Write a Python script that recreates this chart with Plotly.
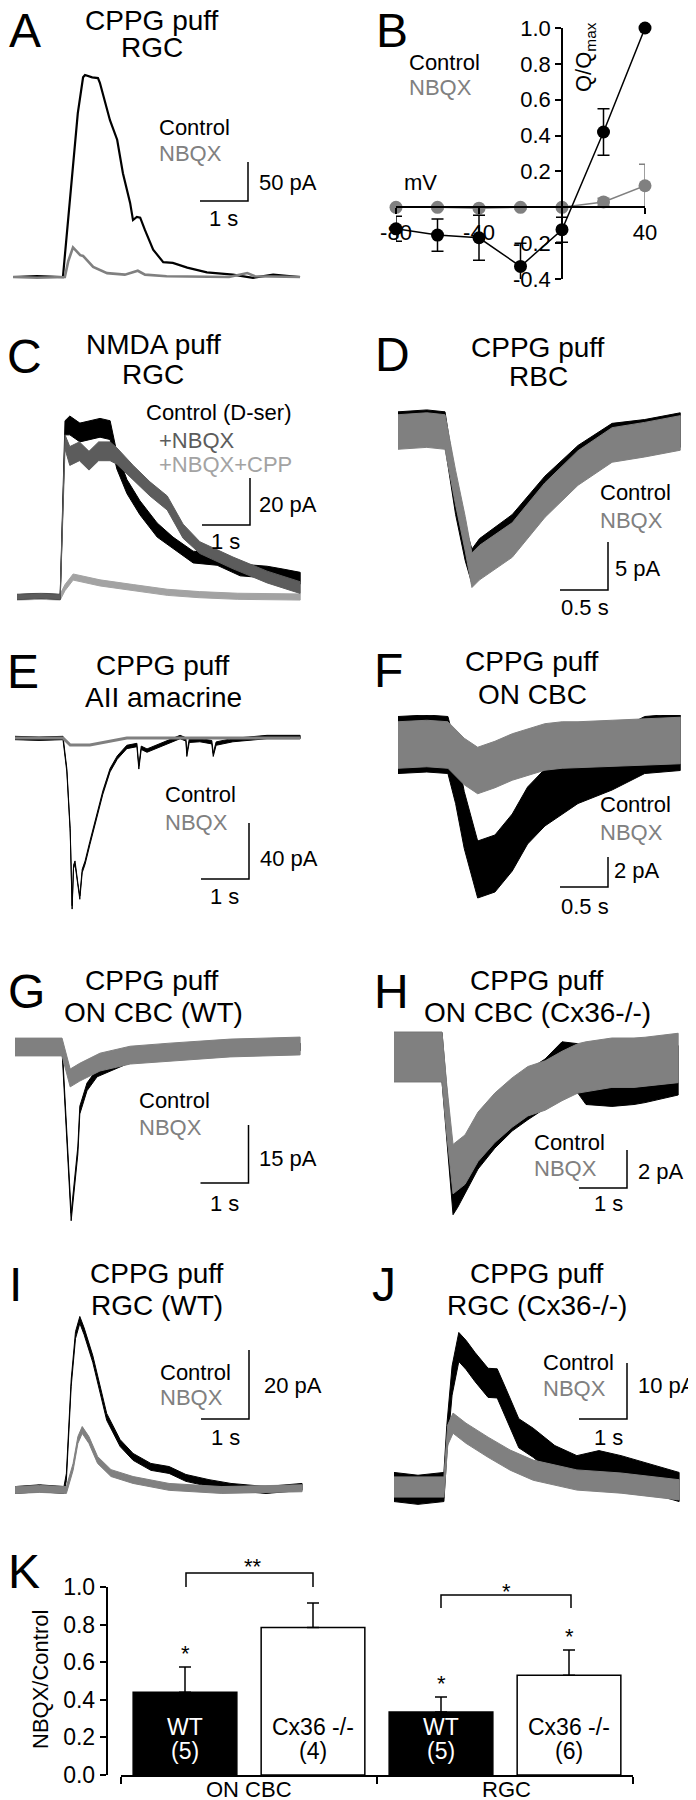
import plotly.graph_objects as go

W, H = 696, 1800
OX, OY = 8, 8  # page offset of the figure div (default body margin)
FONT = "Liberation Sans, Arial, sans-serif"
BLACK = "#000000"
GRAY = "#808080"
DARK = "#5c5c5c"
LIGHT = "#a3a3a3"

# ---- A: CPPG puff, RGC  (time s, current pA, outward up)
a_t_ctrl = [0, 0.5, 1.04, 1.23, 1.35, 1.46, 1.50, 1.65, 1.77, 1.81, 2.02, 2.17, 2.29, 2.44, 2.50,
            2.58, 2.65, 2.75, 2.92, 3.13, 3.33, 3.63, 4.04, 4.58, 5.0, 5.42, 5.98]
a_ctrl = [0, 1, 0, 133, 210, 256, 259, 256, 255, 249, 201, 176, 133, 95, 73,
          77, 76, 60, 35, 19, 18, 12, 6, 3, -1, 3, 0]
a_t_nbqx = [0, 0.5, 1.08, 1.15, 1.25, 1.40, 1.46, 1.67, 1.96, 2.33, 2.6, 2.75, 3.2, 4.5, 4.88, 5.04, 5.98]
a_nbqx = [0, -1, 0, 20, 38, 28, 27, 13, 5, 3, 8, 3, 1, 0, 5, 1, 0]

# ---- B: charge vs holding potential
b_mv = [-80, -60, -40, -20, 0, 20, 40]
b_ctrl = [-0.12, -0.155, -0.17, -0.33, -0.125, 0.42, 1.0]
b_ctrl_err = [0.07, 0.09, 0.125, 0.13, 0.07, 0.13, 0]
b_nbqx = [0, 0, -0.005, 0, 0, 0.03, 0.12]
b_nbqx_err = [0.01, 0.01, 0.01, 0.01, 0.01, 0.02, 0.12]
b_yticks = [-0.4, -0.2, 0.2, 0.4, 0.6, 0.8, 1.0]
b_xticks = [-80, -40, 40]

# ---- C: NMDA puff, RGC
c_t_ctrl = [0, 0.5, 0.9, 1.0, 1.1, 1.31, 1.52, 1.73, 1.94, 2.08, 2.29, 2.56, 2.92, 3.25, 3.67, 4.17,
            4.65, 5.21, 5.54, 5.9]
c_ctrl = [0, 0.5, 0, 72, 73, 70, 71, 72, 71, 58, 47, 38, 28.5, 23, 17, 16, 11.5, 10.6, 9.4, 8]
c_ctrl_noise = [1, 1, 1, 3, 4, 4, 4, 4, 4, 3.5, 3, 3, 3, 2.5, 2.5, 2.5, 2.5, 2.5, 2.5, 2.5]
c_t_nbqx = [0, 0.5, 0.9, 1.0, 1.1, 1.3, 1.5, 1.7, 1.94, 2.08, 2.42, 2.77, 3.13, 3.46, 3.81, 4.5, 5.21, 5.9]
c_nbqx = [0, 0.5, 0, 66, 60, 62, 58, 62, 62, 60, 53, 46, 40, 28, 21, 14.5, 8.5, 4]
c_nbqx_noise = [1, 1, 1, 3, 4, 4, 4, 4, 4, 3.5, 3, 3, 3, 3, 2.5, 2.5, 2.5, 2.5]
c_t_cpp = [0, 0.5, 0.9, 1.0, 1.17, 1.73, 2.42, 3.13, 3.8, 4.6, 5.9]
c_cpp = [0, 0.3, 0, 4, 8.5, 6, 4, 2, 1, 0.3, 0]

# ---- D: CPPG puff, RBC
d_t = [0, 0.3, 0.49, 0.6, 0.7, 0.77, 0.85, 1.0, 1.19, 1.53, 1.875, 2.23, 2.57, 2.94]
d_ctrl = [0.3, 0.5, 0.3, -6.8, -11.6, -14.0, -12.9, -11.8, -10.4, -6.4, -3.2, -0.9, -0.5, 0.2]
d_nbqx = [0, 0.2, 0, -5.8, -10.6, -14.4, -13.6, -12.6, -11.25, -7.1, -3.75, -1.35, -0.8, -0.1]

# ---- E: CPPG puff, AII amacrine
e_t_ctrl = [0, 0.5, 1.0, 1.08, 1.15, 1.19, 1.22, 1.25, 1.31, 1.35, 1.40, 1.46, 1.56, 1.71, 1.83, 1.98,
            2.13, 2.33, 2.54, 2.58, 2.63, 2.75, 3.17, 3.44, 3.56, 3.58, 3.63, 3.85, 4.1, 4.13, 4.19,
            4.54, 5.25, 5.94]
e_ctrl = [0, -0.5, 0, -23, -66, -121, -92, -89, -105, -114, -95, -89, -75, -56, -39, -23,
          -14, -6.4, -5, -21, -7, -9, -3, 0.7, -1, -12, -2, -1.5, -3, -12, -4,
          -1.5, 0.7, 0.7]
e_t_nbqx = [0, 1.0, 1.15, 1.56, 2.33, 5.94]
e_nbqx = [0, 0, -5, -5, 0, 0]

# ---- F: CPPG puff, ON CBC
f_t = [0, 0.3, 0.52, 0.6, 0.69, 0.83, 1.01, 1.19, 1.35, 1.53, 1.71, 1.875, 2.23, 2.57, 2.94]
f_ctrl = [0, 0.1, 0, -2.0, -5.0, -8.3, -7.9, -6.5, -4.7, -3.5, -2.7, -2.0, -1.1, 0, 0.2]
f_nbqx = [0, 0.1, 0, -0.5, -1.1, -1.7, -1.3, -0.8, -0.5, -0.13, 0, 0, 0.1, 0.2, 0.3]

# ---- G: CPPG puff, ON CBC (WT)
g_t_ctrl = [0, 0.98, 1.17, 1.23, 1.31, 1.35, 1.5, 1.71, 1.98, 2.33, 2.81, 3.85, 5.94]
g_ctrl = [0, 0, -43.9, -36, -26.6, -16.3, -10.3, -6.7, -5.2, -3.4, -2.1, -0.8, 0]
g_t_nbqx = [0, 0.98, 1.15, 1.35, 1.77, 2.4, 3.23, 4.48, 5.94]
g_nbqx = [0, 0, -8, -6.5, -3.9, -2.1, -1.3, -0.26, 0.26]

# ---- H: CPPG puff, ON CBC (Cx36-/-)
h_t = [0, 0.5, 1.0, 1.1, 1.23, 1.33, 1.48, 1.75, 2.1, 2.46, 2.79, 3.15, 3.5, 3.83, 4.0, 4.54, 5.0, 5.23, 5.92]
h_ctrl = [0, 0, 0, -3.0, -7.0, -6.6, -5.9, -4.6, -3.5, -2.6, -2.0, -1.4, -0.5, -0.6, -1.2, -1.3, -1.2, -1.1, -0.7]
h_nbqx = [0, 0, 0, -2.8, -5.9, -5.7, -5.4, -4.2, -3.2, -2.4, -1.8, -1.5, -1.0, -0.6, -0.5, -0.3, -0.3, -0.26, -0.05]

# ---- I: CPPG puff, RGC (WT)
i_t_ctrl = [0, 0.5, 1.01, 1.06, 1.16, 1.25, 1.34, 1.43, 1.61, 1.76, 1.9, 2.18, 2.45, 2.82, 3.2, 3.55,
            4.03, 4.49, 5.22, 5.97]
i_ctrl = [0, 0.5, 0, 3.8, 31, 44.9, 49.3, 46, 38, 29.6, 21.2, 13.6, 9.6, 6.7, 5.8, 3.5, 2.0, 0.9, 0, 0.9]
i_t_nbqx = [0, 0.5, 1.06, 1.2, 1.3, 1.39, 1.53, 1.71, 1.99, 2.45, 3.2, 4.3, 5.97]
i_nbqx = [0, 0.3, 0, 6.7, 14.5, 17.4, 14.5, 8.7, 4.9, 2.9, 0.9, 0, 0.5]

# ---- J: CPPG puff, RGC (Cx36-/-)
j_t_ctrl = [0, 0.5, 1.04, 1.1, 1.21, 1.35, 1.5, 1.69, 1.96, 2.15, 2.33, 2.6, 2.9, 3.35, 3.81, 4.27,
            4.73, 5.21, 5.67, 5.94]
j_ctrl = [0, -0.5, 0, 8.4, 19, 25, 23.6, 21.4, 18.6, 18.5, 15, 9.6, 7.9, 4.8, 3.0, 3.9, 3.0, 1.8, 0.7, 0]
j_t_nbqx = [0, 0.5, 1.04, 1.12, 1.23, 1.5, 1.96, 2.42, 2.9, 3.81, 4.73, 5.94]
j_nbqx = [0, 0, 0, 9.3, 11.4, 9.6, 7.1, 4.8, 3.0, 1.25, 0.7, -0.5]

# ---- K: NBQX / Control summary
k_groups = ["ON CBC", "RGC"]
k_geno = ["WT", "Cx36 -/-", "WT", "Cx36 -/-"]
k_n = [5, 4, 5, 6]
k_ratio = [0.44, 0.785, 0.335, 0.53]
k_sem = [0.135, 0.13, 0.08, 0.135]
k_yticks = [0.0, 0.2, 0.4, 0.6, 0.8, 1.0]

# panel -> axis no., box (l, t, r, b) page px, px of t=0, px per s, px of I=0, px per pA
GEOM = {
    "A": (1, (8, 55, 345, 300), 13, 48, 277, 0.78),
    "C": (3, (8, 390, 345, 625), 17, 48, 597, 2.35),
    "D": (4, (345, 390, 696, 625), 398, 96, 432, 9.6),
    "E": (5, (8, 715, 345, 925), 15, 48, 738, 1.4),
    "F": (6, (345, 715, 696, 925), 398, 96, 745, 15),
    "G": (7, (8, 1025, 345, 1235), 15, 48, 1047, 3.87),
    "H": (8, (345, 1025, 696, 1235), 394, 48, 1057, 19),
    "I": (9, (8, 1310, 345, 1520), 15.5, 48, 1490, 3.45),
    "J": (10, (345, 1310, 696, 1520), 394, 48, 1487, 5.6),
}


def fx(p):
    return (p - OX) / W


def fy(p):
    return 1 - (p - OY) / H


fig = go.Figure()


def ax_names(n):
    s = "" if n == 1 else str(n)
    return "xaxis" + s, "yaxis" + s, "x" + s, "y" + s


def setup_trace_axes(key):
    n, (l, t, r, b), x0, sx, y0, sy = GEOM[key]
    xa, ya, xr, yr = ax_names(n)
    fig.update_layout(**{
        xa: dict(domain=[fx(l), fx(r)], range=[(l - x0) / sx, (r - x0) / sx], visible=False,
                 anchor=yr, automargin=False),
        ya: dict(domain=[fy(b), fy(t)], range=[(y0 - b) / sy, (y0 - t) / sy], visible=False,
                 anchor=xr, automargin=False),
    })


def add_sig(key, t, v, color, noise=0.0, width=2.0):
    _, _, xr, yr = ax_names(GEOM[key][0])
    if noise:
        nz = noise if isinstance(noise, list) else [noise] * len(v)
        up = [a + e for a, e in zip(v, nz)]
        lo = [a - e for a, e in zip(v, nz)]
        fig.add_trace(go.Scatter(x=list(t) + list(t)[::-1], y=up + lo[::-1], mode="lines", fill="toself",
                                 fillcolor=color, line=dict(color=color, width=1),
                                 xaxis=xr, yaxis=yr, hoverinfo="skip"))
    else:
        fig.add_trace(go.Scatter(x=t, y=v, mode="lines", line=dict(color=color, width=width),
                                 xaxis=xr, yaxis=yr, hoverinfo="skip"))


def scale_bar(key, corner, dt, di):
    n, _, x0, sx, y0, sy = GEOM[key]
    _, _, xr, yr = ax_names(n)
    tc = (corner[0] - x0) / sx
    ic = (y0 - corner[1]) / sy
    fig.add_trace(go.Scatter(x=[tc - dt, tc, tc], y=[ic, ic, ic + di], mode="lines",
                             line=dict(color=BLACK, width=1.5), xaxis=xr, yaxis=yr, hoverinfo="skip"))


def txt(x, y, s, size=22, color=BLACK, xanchor="center", angle=0):
    fig.add_annotation(x=fx(x), y=fy(y), xref="paper", yref="paper", text=s, showarrow=False,
                       font=dict(family=FONT, size=size, color=color), xanchor=xanchor,
                       yanchor="middle", textangle=angle)


for k in GEOM:
    setup_trace_axes(k)

# traces
add_sig("A", a_t_ctrl, a_ctrl, BLACK, width=2.2)
add_sig("A", a_t_nbqx, a_nbqx, GRAY, width=2.6)

add_sig("C", c_t_cpp, c_cpp, LIGHT, noise=1.3)
add_sig("C", c_t_ctrl, c_ctrl, BLACK, noise=c_ctrl_noise)
add_sig("C", c_t_nbqx, c_nbqx, DARK, noise=c_nbqx_noise)

add_sig("D", d_t, d_ctrl, BLACK, noise=1.8)
add_sig("D", d_t, d_nbqx, GRAY, noise=1.8)

add_sig("E", e_t_ctrl, e_ctrl, BLACK, noise=1.2)
add_sig("E", e_t_nbqx, e_nbqx, GRAY, width=3)

add_sig("F", f_t, f_ctrl, BLACK, noise=1.9)
add_sig("F", f_t, f_nbqx, GRAY, noise=1.55)

add_sig("G", g_t_ctrl, g_ctrl, BLACK, noise=1.0)
add_sig("G", g_t_nbqx, g_nbqx, GRAY, noise=2.3)

add_sig("H", h_t, h_ctrl, BLACK, noise=1.3)
add_sig("H", h_t, h_nbqx, GRAY, noise=1.3)

add_sig("I", i_t_ctrl, i_ctrl, BLACK, noise=1.0)
add_sig("I", i_t_nbqx, i_nbqx, GRAY, noise=1.0)

add_sig("J", j_t_ctrl, j_ctrl, BLACK, noise=2.6)
add_sig("J", j_t_nbqx, j_nbqx, GRAY, noise=1.8)

# scale bars
scale_bar("A", (248, 201), 1, 50)
scale_bar("C", (250, 525), 1, 20)
scale_bar("D", (608, 590), 0.5, 5)
scale_bar("E", (249, 879), 1, 40)
scale_bar("F", (608, 887), 0.5, 2)
scale_bar("G", (248.5, 1183), 1, 15)
scale_bar("H", (627, 1188), 1, 2)
scale_bar("I", (249, 1419), 1, 20)
scale_bar("J", (627, 1419), 1, 10)

# ---- B axes (crossing at origin)
fig.update_layout(
    xaxis2=dict(domain=[fx(396), fx(645)], range=[-80, 40], anchor="free", position=fy(207),
                showline=True, linecolor=BLACK, linewidth=1.5, ticks="outside", ticklen=6, tickwidth=1.5,
                tickcolor=BLACK, tickvals=b_xticks, ticktext=[str(v) for v in b_xticks], automargin=False,
                tickfont=dict(family=FONT, size=22, color=BLACK), showgrid=False, zeroline=False),
    yaxis2=dict(domain=[fy(279), fy(28)], range=[-0.4, 1.0], anchor="free", position=fx(562),
                showline=True, linecolor=BLACK, linewidth=1.5, ticks="outside", ticklen=6, tickwidth=1.5,
                tickcolor=BLACK, tickvals=b_yticks, ticktext=["%.1f" % v for v in b_yticks], automargin=False,
                tickfont=dict(family=FONT, size=22, color=BLACK), showgrid=False, zeroline=False),
)
fig.add_trace(go.Scatter(x=b_mv, y=b_nbqx, mode="lines+markers", xaxis="x2", yaxis="y2", cliponaxis=False,
                         line=dict(color=GRAY, width=1.5), marker=dict(color=GRAY, size=13),
                         error_y=dict(type="data", array=b_nbqx_err, color=GRAY, thickness=1.5, width=6)))
fig.add_trace(go.Scatter(x=b_mv, y=b_ctrl, mode="lines+markers", xaxis="x2", yaxis="y2", cliponaxis=False,
                         line=dict(color=BLACK, width=1.5), marker=dict(color=BLACK, size=13),
                         error_y=dict(type="data", array=b_ctrl_err, color=BLACK, thickness=1.5, width=6)))

# ---- K bar chart
k_x = list(range(len(k_ratio)))
fig.update_layout(
    xaxis11=dict(domain=[fx(121), fx(633)], range=[-0.5, 3.5], anchor="y11", showline=True, linecolor=BLACK,
                 linewidth=1.5, ticks="outside", ticklen=7, tickwidth=1.5, tickcolor=BLACK, automargin=False,
                 tickvals=[-0.5, 1.5, 3.5], showticklabels=False, showgrid=False, zeroline=False),
    yaxis11=dict(domain=[fy(1775), fy(1587)], range=[0, 1.0], anchor="free", position=fx(106.5),
                 showline=True, linecolor=BLACK, linewidth=1.5, ticks="outside", ticklen=6, tickwidth=1.5,
                 tickcolor=BLACK, tickvals=k_yticks, ticktext=["%.1f" % v for v in k_yticks], automargin=False,
                 tickfont=dict(family=FONT, size=23, color=BLACK), showgrid=False, zeroline=False),
)
fig.add_trace(go.Bar(x=k_x, y=k_ratio, width=0.81, xaxis="x11", yaxis="y11", cliponaxis=False,
                     marker=dict(color=[BLACK if g == "WT" else "white" for g in k_geno],
                                 line=dict(color=BLACK, width=1.5)),
                     error_y=dict(type="data", array=k_sem, arrayminus=[0] * len(k_sem), symmetric=False,
                                  color=BLACK, thickness=1.5, width=6)))
for i, (g, n) in enumerate(zip(k_geno, k_n)):
    col = "white" if g == "WT" else BLACK
    for line, ypx in ((g, 1727), ("(%d)" % n, 1751)):
        fig.add_annotation(x=i, y=fy(ypx), xref="x11", yref="paper", text=line, showarrow=False,
                           font=dict(family=FONT, size=23, color=col), xanchor="center", yanchor="middle")
# significance stars above WT ON CBC, WT RGC, Cx36 RGC
for i in (0, 2, 3):
    fig.add_annotation(x=i, y=k_ratio[i] + k_sem[i] + 0.07, xref="x11", yref="y11", text="*", showarrow=False,
                       font=dict(family=FONT, size=22, color=BLACK), xanchor="center", yanchor="middle")
for (xl, xr_, ytop, ybot, star, sx_, sy_) in ((186, 313, 1573, 1587, "**", 253, 1566),
                                              (441, 571, 1595, 1608, "*", 506, 1591)):
    fig.add_shape(type="path", xref="paper", yref="paper",
                  path="M %f %f L %f %f L %f %f L %f %f" % (fx(xl), fy(ybot), fx(xl), fy(ytop),
                                                          fx(xr_), fy(ytop), fx(xr_), fy(ybot)),
                  line=dict(color=BLACK, width=1.5))
    txt(sx_, sy_, star, size=22)
txt(249, 1789, k_groups[0])
txt(506, 1789, k_groups[1])
txt(40, 1680, "NBQX/Control", size=22, angle=-90)

# ---- texts
LET = 48
TIT = 28
for s, x, y in (("A", 25, 30), ("B", 392, 30), ("C", 24, 356), ("D", 392, 355), ("E", 23, 671),
                ("F", 388, 670), ("G", 26, 991), ("H", 391, 991), ("I", 15, 1284), ("J", 384, 1284),
                ("K", 24, 1571)):
    txt(x, y, s, size=LET)

for s, x, y in (("CPPG puff", 152, 20), ("RGC", 152, 47),
                ("NMDA puff", 153, 345), ("RGC", 153, 374),
                ("CPPG puff", 538, 347), ("RBC", 538, 376),
                ("CPPG puff", 163, 665), ("AII amacrine", 163, 697),
                ("CPPG puff", 532, 662), ("ON CBC", 532, 695),
                ("CPPG puff", 152, 980), ("ON CBC (WT)", 153, 1012),
                ("CPPG puff", 537, 980), ("ON CBC (Cx36-/-)", 537, 1012),
                ("CPPG puff", 157, 1273), ("RGC (WT)", 157, 1305),
                ("CPPG puff", 537, 1273), ("RGC (Cx36-/-)", 537, 1305)):
    txt(x, y, s, size=TIT)

# legends (left aligned)
for x, y1, y2 in ((157, 127, 153), (407, 62, 88), (598, 493, 520), (163, 795, 822), (598, 805, 832),
                  (137, 1100, 1127), (532, 1142, 1168), (158, 1372, 1397), (541, 1362, 1388)):
    txt(x, y1, "Control", xanchor="left")
    txt(x, y2, "NBQX", color=GRAY, xanchor="left")
txt(144, 413, "Control (D-ser)", xanchor="left")
txt(157, 440, "+NBQX", color=DARK, xanchor="left")
txt(157, 465, "+NBQX+CPP", color=LIGHT, xanchor="left")

# scale labels
for s, x, y, anc in (("50 pA", 257, 183, "left"), ("1 s", 223, 218, "center"),
                     ("20 pA", 257, 505, "left"), ("1 s", 225, 542, "center"),
                     ("5 pA", 613, 568, "left"), ("0.5 s", 585, 607, "center"),
                     ("40 pA", 258, 858, "left"), ("1 s", 224, 897, "center"),
                     ("2 pA", 612, 870, "left"), ("0.5 s", 585, 906, "center"),
                     ("15 pA", 257, 1158, "left"), ("1 s", 224, 1203, "center"),
                     ("2 pA", 636, 1171, "left"), ("1 s", 608, 1203, "center"),
                     ("20 pA", 262, 1385, "left"), ("1 s", 225, 1437, "center"),
                     ("10 pA", 636, 1385, "left"), ("1 s", 608, 1437, "center")):
    txt(x, y, s, xanchor=anc)

# B extra labels
txt(421, 182, "mV")
txt(585, 57, "Q/Q<sub>max</sub>", angle=-90)

fig.update_layout(width=W, height=H, margin=dict(l=0, r=0, t=0, b=0, pad=0), showlegend=False,
                  plot_bgcolor="white", paper_bgcolor="white", font=dict(family=FONT, color=BLACK))

fig.write_html("out.html")
